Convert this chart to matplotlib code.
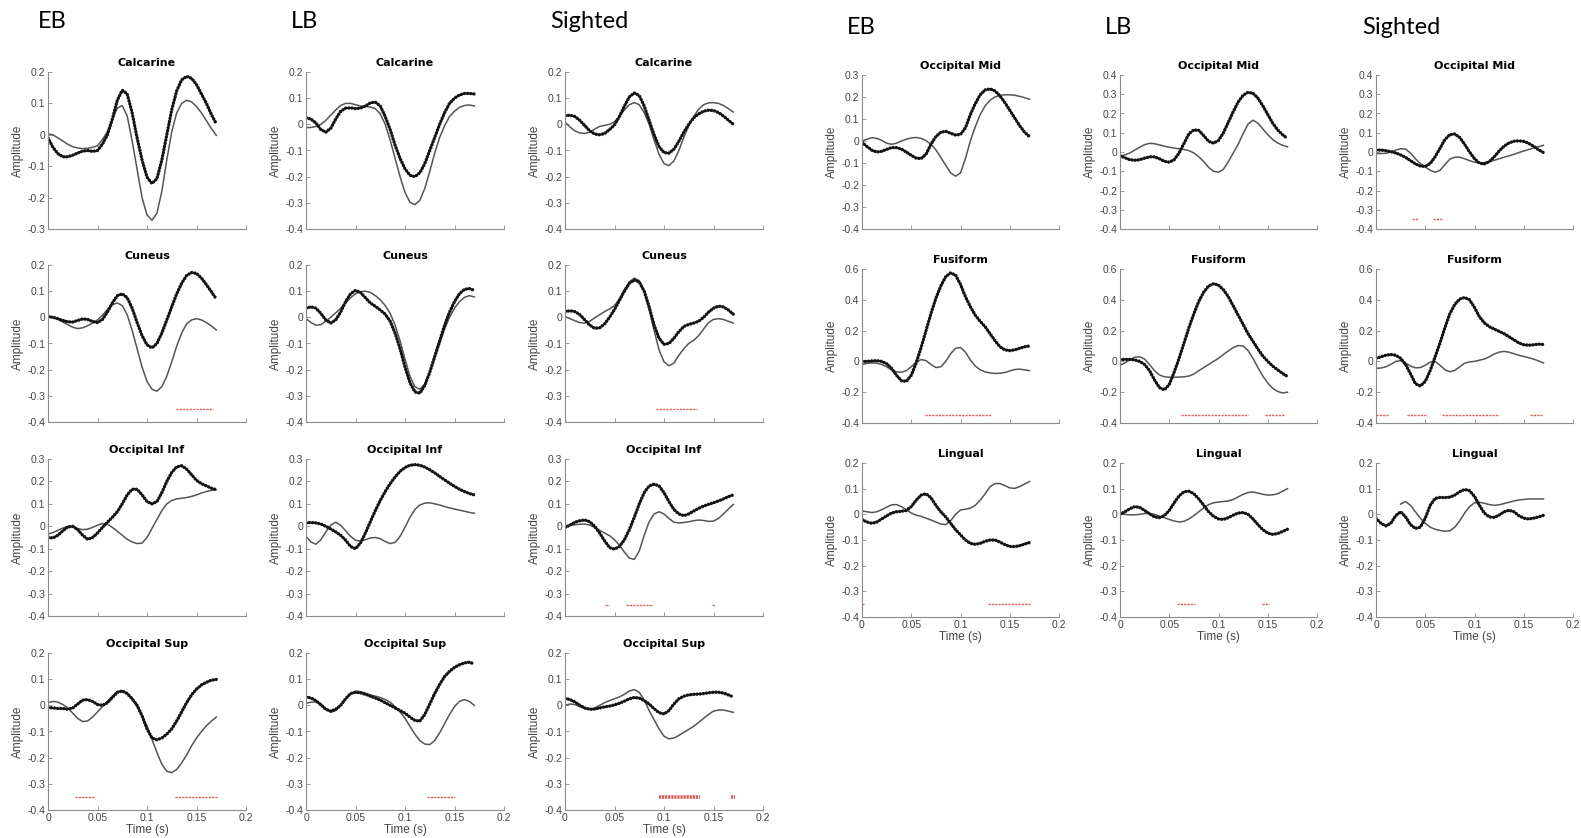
import matplotlib
matplotlib.use("Agg")
import matplotlib.pyplot as plt
import numpy as np

plt.rcParams["font.family"] = ["Liberation Sans", "DejaVu Sans"]
plt.rcParams["axes.unicode_minus"] = False

# time axis of every curve (s)
time_s = np.linspace(0, 0.17, 35)

# ---- Calcarine ----
calc_eb_dots = [-0.01, -0.04, -0.06, -0.07, -0.07, -0.065, -0.058, -0.052, -0.05, -0.053, -0.05, -0.03, 0.0, 0.05, 0.11, 0.142, 0.13, 0.07, -0.01, -0.08, -0.135, -0.155, -0.14, -0.08, 0.0, 0.08, 0.14, 0.175, 0.186, 0.18, 0.16, 0.13, 0.1, 0.065, 0.035]
calc_eb_line = [0.003, 0.0, -0.01, -0.02, -0.03, -0.038, -0.042, -0.044, -0.043, -0.04, -0.035, -0.015, 0.01, 0.05, 0.085, 0.093, 0.06, -0.02, -0.11, -0.2, -0.255, -0.272, -0.25, -0.18, -0.08, 0.01, 0.07, 0.1, 0.11, 0.105, 0.09, 0.07, 0.045, 0.02, -0.002]
calc_eb_sig = []
calc_lb_dots = [0.025, 0.02, 0.005, -0.02, -0.03, -0.015, 0.02, 0.05, 0.062, 0.063, 0.06, 0.062, 0.07, 0.082, 0.085, 0.07, 0.03, -0.02, -0.08, -0.13, -0.17, -0.195, -0.2, -0.185, -0.15, -0.1, -0.05, 0.0, 0.045, 0.08, 0.1, 0.112, 0.118, 0.118, 0.116]
calc_lb_line = [-0.013, -0.012, -0.008, 0.0, 0.015, 0.035, 0.055, 0.072, 0.08, 0.08, 0.075, 0.07, 0.068, 0.066, 0.06, 0.04, 0.0, -0.06, -0.13, -0.2, -0.26, -0.298, -0.307, -0.29, -0.245, -0.18, -0.11, -0.05, -0.005, 0.03, 0.05, 0.065, 0.072, 0.074, 0.07]
calc_lb_sig = []
calc_s_dots = [0.033, 0.035, 0.03, 0.015, -0.005, -0.025, -0.037, -0.04, -0.035, -0.02, -0.002, 0.03, 0.07, 0.105, 0.12, 0.11, 0.07, 0.015, -0.04, -0.085, -0.108, -0.11, -0.095, -0.065, -0.03, 0.0, 0.025, 0.04, 0.05, 0.054, 0.053, 0.045, 0.032, 0.016, 0.0]
calc_s_line = [0.008, -0.01, -0.025, -0.033, -0.035, -0.03, -0.018, -0.008, -0.004, 0.0, 0.01, 0.03, 0.055, 0.075, 0.083, 0.075, 0.045, 0.0, -0.06, -0.115, -0.15, -0.158, -0.14, -0.1, -0.05, -0.005, 0.03, 0.058, 0.075, 0.082, 0.083, 0.08, 0.072, 0.06, 0.047]
calc_s_sig = []

# ---- Cuneus ----
cun_eb_dots = [0.003, 0.0, -0.005, -0.012, -0.017, -0.018, -0.012, -0.006, -0.008, -0.016, -0.02, -0.008, 0.02, 0.055, 0.083, 0.09, 0.075, 0.035, -0.02, -0.07, -0.105, -0.117, -0.1, -0.06, -0.01, 0.04, 0.09, 0.13, 0.16, 0.171, 0.168, 0.15, 0.125, 0.098, 0.07]
cun_eb_line = [0.004, 0.0, -0.008, -0.018, -0.028, -0.038, -0.043, -0.04, -0.032, -0.022, -0.01, 0.008, 0.03, 0.048, 0.055, 0.045, 0.01, -0.05, -0.12, -0.19, -0.245, -0.275, -0.282, -0.265, -0.225, -0.17, -0.11, -0.06, -0.025, -0.01, -0.005, -0.01, -0.02, -0.033, -0.048]
cun_eb_sig = [(0.129, 0.167)]
cun_lb_dots = [0.035, 0.04, 0.035, 0.015, -0.01, -0.022, -0.01, 0.02, 0.06, 0.09, 0.103, 0.095, 0.075, 0.055, 0.042, 0.028, 0.012, -0.015, -0.06, -0.12, -0.19, -0.25, -0.285, -0.29, -0.26, -0.21, -0.15, -0.09, -0.03, 0.02, 0.06, 0.09, 0.107, 0.11, 0.103]
cun_lb_line = [-0.005, -0.02, -0.03, -0.028, -0.015, 0.0, 0.017, 0.035, 0.055, 0.075, 0.09, 0.098, 0.1, 0.095, 0.083, 0.067, 0.045, 0.015, -0.03, -0.09, -0.16, -0.225, -0.265, -0.275, -0.255, -0.21, -0.155, -0.1, -0.045, 0.0, 0.035, 0.06, 0.076, 0.083, 0.078]
cun_lb_sig = []
cun_s_dots = [0.022, 0.025, 0.022, 0.01, -0.01, -0.03, -0.042, -0.04, -0.025, 0.0, 0.03, 0.065, 0.1, 0.13, 0.143, 0.135, 0.1, 0.04, -0.03, -0.08, -0.103, -0.1, -0.08, -0.055, -0.035, -0.027, -0.022, -0.015, 0.0, 0.02, 0.035, 0.043, 0.04, 0.028, 0.012]
cun_s_line = [0.003, -0.005, -0.013, -0.02, -0.022, -0.015, -0.002, 0.01, 0.022, 0.032, 0.045, 0.07, 0.105, 0.135, 0.15, 0.14, 0.1, 0.03, -0.05, -0.125, -0.17, -0.185, -0.175, -0.145, -0.12, -0.1, -0.088, -0.07, -0.045, -0.02, -0.008, -0.005, -0.008, -0.015, -0.022]
cun_s_sig = [(0.092, 0.133)]

# ---- Occipital Inf ----
oinf_eb_dots = [-0.05, -0.052, -0.04, -0.02, -0.003, 0.0, -0.015, -0.04, -0.058, -0.05, -0.03, -0.005, 0.018, 0.04, 0.065, 0.1, 0.14, 0.165, 0.165, 0.14, 0.11, 0.1, 0.11, 0.15, 0.2, 0.24, 0.265, 0.27, 0.255, 0.23, 0.205, 0.19, 0.18, 0.17, 0.163]
oinf_eb_line = [-0.035, -0.028, -0.018, -0.008, 0.0, -0.003, -0.01, -0.015, -0.013, -0.005, 0.005, 0.012, 0.01, -0.005, -0.022, -0.04, -0.058, -0.07, -0.077, -0.075, -0.05, -0.01, 0.03, 0.07, 0.1, 0.115, 0.122, 0.125, 0.128, 0.133, 0.14, 0.148, 0.155, 0.16, 0.163]
oinf_eb_sig = []
oinf_lb_dots = [0.015, 0.017, 0.015, 0.01, 0.0, -0.012, -0.025, -0.04, -0.062, -0.09, -0.1, -0.075, -0.03, 0.02, 0.07, 0.115, 0.155, 0.19, 0.22, 0.245, 0.262, 0.272, 0.275, 0.272, 0.264, 0.252, 0.238, 0.222, 0.207, 0.192, 0.178, 0.165, 0.155, 0.146, 0.14]
oinf_lb_line = [-0.045, -0.07, -0.08, -0.06, -0.025, 0.005, 0.018, 0.005, -0.02, -0.045, -0.062, -0.066, -0.06, -0.052, -0.05, -0.055, -0.068, -0.077, -0.072, -0.045, -0.005, 0.04, 0.075, 0.095, 0.103, 0.105, 0.1, 0.095, 0.088, 0.082, 0.077, 0.072, 0.067, 0.062, 0.058]
oinf_lb_sig = []
oinf_s_dots = [-0.005, 0.005, 0.018, 0.025, 0.028, 0.02, 0.0, -0.03, -0.065, -0.095, -0.102, -0.09, -0.06, -0.015, 0.04, 0.1, 0.15, 0.18, 0.188, 0.18, 0.15, 0.11, 0.075, 0.055, 0.047, 0.055, 0.068, 0.08, 0.09, 0.098, 0.105, 0.113, 0.122, 0.132, 0.14]
oinf_s_line = [0.0, 0.004, 0.007, 0.009, 0.01, 0.005, -0.005, -0.018, -0.03, -0.042, -0.06, -0.085, -0.115, -0.142, -0.148, -0.11, -0.04, 0.02, 0.055, 0.065, 0.055, 0.035, 0.018, 0.015, 0.017, 0.02, 0.025, 0.028, 0.026, 0.022, 0.023, 0.035, 0.055, 0.077, 0.097]
oinf_s_sig = [(0.040, 0.044), (0.062, 0.089), (0.148, 0.152)]

# ---- Occipital Sup ----
osup_eb_dots = [-0.008, -0.01, -0.012, -0.012, -0.015, -0.01, 0.005, 0.02, 0.022, 0.015, 0.003, 0.0, 0.01, 0.03, 0.05, 0.055, 0.045, 0.025, 0.0, -0.04, -0.09, -0.125, -0.132, -0.125, -0.11, -0.09, -0.06, -0.025, 0.01, 0.04, 0.062, 0.078, 0.088, 0.096, 0.099]
osup_eb_line = [0.01, 0.015, 0.012, 0.003, -0.01, -0.03, -0.05, -0.062, -0.06, -0.045, -0.025, -0.005, 0.015, 0.035, 0.052, 0.055, 0.045, 0.025, -0.005, -0.04, -0.08, -0.13, -0.18, -0.225, -0.252, -0.257, -0.245, -0.22, -0.19, -0.155, -0.125, -0.1, -0.078, -0.06, -0.045]
osup_eb_sig = [(0.027, 0.047), (0.128, 0.171)]
osup_lb_dots = [0.032, 0.028, 0.018, 0.002, -0.015, -0.022, -0.015, 0.0, 0.025, 0.045, 0.05, 0.048, 0.042, 0.035, 0.028, 0.02, 0.01, 0.0, -0.01, -0.02, -0.03, -0.045, -0.058, -0.06, -0.035, 0.005, 0.045, 0.08, 0.11, 0.13, 0.145, 0.155, 0.162, 0.165, 0.158]
osup_lb_line = [0.008, 0.012, 0.013, 0.005, -0.013, -0.027, -0.02, 0.0, 0.025, 0.045, 0.054, 0.052, 0.047, 0.04, 0.035, 0.03, 0.022, 0.012, -0.005, -0.025, -0.05, -0.08, -0.11, -0.135, -0.148, -0.15, -0.135, -0.105, -0.07, -0.035, -0.005, 0.015, 0.022, 0.015, 0.0]
osup_lb_sig = [(0.122, 0.151)]
osup_s_dots = [0.027, 0.022, 0.013, 0.0, -0.01, -0.015, -0.014, -0.01, -0.006, -0.003, 0.002, 0.008, 0.016, 0.025, 0.03, 0.028, 0.018, 0.005, -0.013, -0.028, -0.033, -0.02, 0.005, 0.025, 0.035, 0.04, 0.042, 0.043, 0.045, 0.048, 0.05, 0.05, 0.047, 0.04, 0.032]
osup_s_line = [0.0, 0.005, 0.003, -0.005, -0.013, -0.016, -0.01, 0.0, 0.01, 0.018, 0.025, 0.032, 0.042, 0.055, 0.06, 0.05, 0.02, -0.02, -0.055, -0.09, -0.118, -0.128, -0.125, -0.115, -0.103, -0.092, -0.08, -0.065, -0.05, -0.035, -0.022, -0.018, -0.018, -0.022, -0.027]
osup_s_sig = [(0.095, 0.136), (0.168, 0.172)]

# ---- Occipital Mid ----
omid_eb_dots = [-0.006, -0.025, -0.042, -0.05, -0.047, -0.038, -0.03, -0.03, -0.037, -0.05, -0.065, -0.078, -0.08, -0.06, -0.015, 0.02, 0.04, 0.044, 0.035, 0.027, 0.03, 0.06, 0.12, 0.17, 0.21, 0.232, 0.237, 0.228, 0.205, 0.175, 0.14, 0.105, 0.07, 0.04, 0.02]
omid_eb_line = [0.0, 0.008, 0.015, 0.012, 0.003, -0.01, -0.015, -0.01, 0.0, 0.008, 0.014, 0.016, 0.012, 0.002, -0.015, -0.04, -0.075, -0.11, -0.145, -0.16, -0.145, -0.08, 0.0, 0.065, 0.12, 0.16, 0.185, 0.2, 0.207, 0.21, 0.21, 0.208, 0.203, 0.197, 0.19]
omid_eb_sig = []
omid_lb_dots = [-0.02, -0.03, -0.04, -0.043, -0.04, -0.032, -0.025, -0.025, -0.035, -0.048, -0.053, -0.04, -0.005, 0.045, 0.095, 0.115, 0.112, 0.085, 0.055, 0.046, 0.06, 0.1, 0.155, 0.21, 0.26, 0.295, 0.31, 0.305, 0.28, 0.24, 0.195, 0.15, 0.115, 0.09, 0.07]
omid_lb_line = [-0.02, -0.015, -0.005, 0.01, 0.025, 0.038, 0.045, 0.043, 0.037, 0.03, 0.025, 0.02, 0.017, 0.013, 0.007, -0.005, -0.025, -0.05, -0.08, -0.1, -0.105, -0.09, -0.05, -0.005, 0.04, 0.095, 0.145, 0.165, 0.15, 0.12, 0.09, 0.065, 0.047, 0.035, 0.027]
omid_lb_sig = []
omid_s_dots = [0.01, 0.01, 0.007, 0.002, -0.005, -0.015, -0.028, -0.045, -0.062, -0.073, -0.075, -0.06, -0.025, 0.02, 0.065, 0.09, 0.094, 0.075, 0.04, 0.0, -0.035, -0.058, -0.062, -0.05, -0.025, 0.005, 0.03, 0.047, 0.056, 0.058, 0.055, 0.045, 0.03, 0.012, -0.003]
omid_s_line = [-0.008, -0.008, -0.007, 0.0, 0.01, 0.017, 0.015, -0.005, -0.035, -0.06, -0.078, -0.095, -0.105, -0.095, -0.065, -0.037, -0.027, -0.027, -0.035, -0.045, -0.053, -0.057, -0.055, -0.05, -0.043, -0.035, -0.027, -0.02, -0.012, -0.003, 0.005, 0.013, 0.021, 0.028, 0.035]
omid_s_sig = [(0.037, 0.043), (0.058, 0.067)]

# ---- Fusiform ----
fus_eb_dots = [0.0, 0.0, 0.003, 0.005, 0.0, -0.015, -0.045, -0.09, -0.125, -0.13, -0.09, -0.01, 0.09, 0.2, 0.31, 0.41, 0.49, 0.55, 0.575, 0.56, 0.5, 0.42, 0.355, 0.3, 0.26, 0.225, 0.18, 0.135, 0.095, 0.075, 0.07, 0.075, 0.085, 0.095, 0.1]
fus_eb_line = [-0.02, -0.012, -0.01, -0.012, -0.02, -0.035, -0.055, -0.068, -0.07, -0.06, -0.035, -0.005, 0.012, 0.005, -0.02, -0.04, -0.035, 0.0, 0.05, 0.085, 0.09, 0.06, 0.01, -0.03, -0.055, -0.068, -0.075, -0.078, -0.077, -0.072, -0.062, -0.053, -0.05, -0.055, -0.06]
fus_eb_sig = [(0.0635, 0.131)]
fus_lb_dots = [0.012, 0.013, 0.013, 0.01, 0.0, -0.02, -0.06, -0.12, -0.17, -0.185, -0.15, -0.07, 0.02, 0.12, 0.22, 0.31, 0.39, 0.45, 0.49, 0.505, 0.495, 0.465, 0.42, 0.36, 0.3, 0.24, 0.18, 0.13, 0.08, 0.035, 0.0, -0.03, -0.055, -0.078, -0.098]
fus_lb_line = [-0.025, -0.01, 0.01, 0.028, 0.03, 0.015, -0.02, -0.06, -0.088, -0.1, -0.103, -0.103, -0.102, -0.1, -0.095, -0.082, -0.06, -0.04, -0.02, 0.0, 0.02, 0.045, 0.068, 0.09, 0.103, 0.1, 0.07, 0.02, -0.04, -0.095, -0.14, -0.175, -0.195, -0.205, -0.2]
fus_lb_sig = [(0.062, 0.130), (0.147, 0.166)]
fus_s_dots = [0.02, 0.03, 0.04, 0.045, 0.04, 0.02, -0.02, -0.08, -0.145, -0.16, -0.13, -0.06, 0.03, 0.12, 0.22, 0.31, 0.37, 0.405, 0.415, 0.4, 0.35, 0.29, 0.25, 0.225, 0.21, 0.195, 0.18, 0.16, 0.14, 0.12, 0.108, 0.105, 0.108, 0.112, 0.11]
fus_s_line = [-0.045, -0.043, -0.035, -0.02, 0.0, 0.005, -0.01, -0.03, -0.042, -0.04, -0.025, -0.005, 0.0, -0.025, -0.055, -0.067, -0.058, -0.035, -0.012, -0.003, 0.0, 0.008, 0.015, 0.03, 0.048, 0.06, 0.065, 0.06, 0.05, 0.04, 0.032, 0.024, 0.015, 0.003, -0.01]
fus_s_sig = [(0.0, 0.0125), (0.031, 0.052), (0.067, 0.125), (0.156, 0.169)]

# ---- Lingual ----
ling_eb_dots = [-0.02, -0.03, -0.035, -0.03, -0.018, -0.006, 0.005, 0.01, 0.012, 0.015, 0.03, 0.055, 0.075, 0.08, 0.065, 0.035, 0.01, -0.01, -0.035, -0.06, -0.08, -0.1, -0.113, -0.117, -0.113, -0.105, -0.1, -0.1, -0.108, -0.118, -0.125, -0.126, -0.122, -0.116, -0.11]
ling_eb_line = [0.013, 0.01, 0.007, 0.01, 0.018, 0.028, 0.037, 0.038, 0.03, 0.018, 0.005, -0.003, -0.008, -0.015, -0.022, -0.03, -0.038, -0.04, -0.025, 0.0, 0.017, 0.02, 0.024, 0.035, 0.055, 0.08, 0.108, 0.12, 0.12, 0.112, 0.103, 0.101, 0.108, 0.118, 0.128]
ling_eb_sig = [(0.0, 0.002), (0.128, 0.171)]
ling_lb_dots = [0.0, 0.01, 0.022, 0.03, 0.027, 0.015, 0.002, -0.01, -0.013, -0.005, 0.015, 0.045, 0.072, 0.088, 0.09, 0.08, 0.06, 0.035, 0.01, -0.008, -0.018, -0.02, -0.013, -0.003, 0.005, 0.007, 0.0, -0.018, -0.04, -0.06, -0.073, -0.078, -0.075, -0.067, -0.058]
ling_lb_line = [0.003, 0.0, -0.002, -0.002, 0.0, 0.003, 0.004, 0.0, -0.007, -0.013, -0.02, -0.026, -0.03, -0.027, -0.018, -0.005, 0.01, 0.025, 0.038, 0.045, 0.048, 0.05, 0.052, 0.058, 0.068, 0.078, 0.085, 0.087, 0.083, 0.078, 0.075, 0.076, 0.08, 0.09, 0.1]
ling_lb_sig = [(0.058, 0.076), (0.144, 0.151)]
ling_s_dots = [-0.015, -0.035, -0.045, -0.035, -0.005, 0.01, -0.01, -0.04, -0.055, -0.05, -0.015, 0.035, 0.062, 0.066, 0.065, 0.067, 0.075, 0.088, 0.097, 0.092, 0.07, 0.035, 0.005, -0.01, -0.012, -0.003, 0.01, 0.016, 0.01, -0.005, -0.015, -0.018, -0.015, -0.01, -0.004]
ling_s_line = [np.nan, np.nan, np.nan, np.nan, np.nan, 0.04, 0.05, 0.035, 0.01, -0.015, -0.035, -0.05, -0.058, -0.063, -0.066, -0.064, -0.05, -0.025, 0.005, 0.03, 0.045, 0.047, 0.043, 0.038, 0.035, 0.037, 0.042, 0.047, 0.052, 0.056, 0.058, 0.06, 0.06, 0.06, 0.06]
ling_s_sig = []

groups = ["EB", "LB", "Sighted"]
SIG_Y = -0.35

# block, row, col, title, dotted curve, solid curve, significance, ylim, ystep
panels = [
    ("L", 0, 0, "Calcarine", calc_eb_dots, calc_eb_line, calc_eb_sig, (-0.3, 0.2), 0.1),
    ("L", 0, 1, "Calcarine", calc_lb_dots, calc_lb_line, calc_lb_sig, (-0.4, 0.2), 0.1),
    ("L", 0, 2, "Calcarine", calc_s_dots, calc_s_line, calc_s_sig, (-0.4, 0.2), 0.1),
    ("L", 1, 0, "Cuneus", cun_eb_dots, cun_eb_line, cun_eb_sig, (-0.4, 0.2), 0.1),
    ("L", 1, 1, "Cuneus", cun_lb_dots, cun_lb_line, cun_lb_sig, (-0.4, 0.2), 0.1),
    ("L", 1, 2, "Cuneus", cun_s_dots, cun_s_line, cun_s_sig, (-0.4, 0.2), 0.1),
    ("L", 2, 0, "Occipital Inf", oinf_eb_dots, oinf_eb_line, oinf_eb_sig, (-0.4, 0.3), 0.1),
    ("L", 2, 1, "Occipital Inf", oinf_lb_dots, oinf_lb_line, oinf_lb_sig, (-0.4, 0.3), 0.1),
    ("L", 2, 2, "Occipital Inf", oinf_s_dots, oinf_s_line, oinf_s_sig, (-0.4, 0.3), 0.1),
    ("L", 3, 0, "Occipital Sup", osup_eb_dots, osup_eb_line, osup_eb_sig, (-0.4, 0.2), 0.1),
    ("L", 3, 1, "Occipital Sup", osup_lb_dots, osup_lb_line, osup_lb_sig, (-0.4, 0.2), 0.1),
    ("L", 3, 2, "Occipital Sup", osup_s_dots, osup_s_line, osup_s_sig, (-0.4, 0.2), 0.1),
    ("R", 0, 0, "Occipital Mid", omid_eb_dots, omid_eb_line, omid_eb_sig, (-0.4, 0.3), 0.1),
    ("R", 0, 1, "Occipital Mid", omid_lb_dots, omid_lb_line, omid_lb_sig, (-0.4, 0.4), 0.1),
    ("R", 0, 2, "Occipital Mid", omid_s_dots, omid_s_line, omid_s_sig, (-0.4, 0.4), 0.1),
    ("R", 1, 0, "Fusiform", fus_eb_dots, fus_eb_line, fus_eb_sig, (-0.4, 0.6), 0.2),
    ("R", 1, 1, "Fusiform", fus_lb_dots, fus_lb_line, fus_lb_sig, (-0.4, 0.6), 0.2),
    ("R", 1, 2, "Fusiform", fus_s_dots, fus_s_line, fus_s_sig, (-0.4, 0.6), 0.2),
    ("R", 2, 0, "Lingual", ling_eb_dots, ling_eb_line, ling_eb_sig, (-0.4, 0.2), 0.1),
    ("R", 2, 1, "Lingual", ling_lb_dots, ling_lb_line, ling_lb_sig, (-0.4, 0.2), 0.1),
    ("R", 2, 2, "Lingual", ling_s_dots, ling_s_line, ling_s_sig, (-0.4, 0.2), 0.1),
]

# layout in pixels of the 1581 x 838 canvas
W, H = 1581, 838
layout = {
    "L": dict(x=[48, 306, 565], top=[72, 265, 459, 653], w=198, h=157, last=3),
    "R": dict(x=[862, 1120, 1376], top=[75, 269, 463], w=197, h=154, last=2),
}
headers = [(38, 22), (291, 22), (550, 22), (847, 27), (1105, 27), (1362, 27)]


def fmt(v):
    s = f"{v:.2f}".rstrip("0").rstrip(".")
    return "0" if s in ("-0", "0") else s


fig = plt.figure(figsize=(W / 100, H / 100), dpi=100)

for i, (px, py) in enumerate(headers):
    fig.text(px / W, 1 - py / H, groups[i % 3], fontsize=17, va="center",
             ha="left", family=["Lato", "DejaVu Sans"])

for block, row, col, title, dots, line, sig, ylim, ystep in panels:
    lay = layout[block]
    x0, top = lay["x"][col], lay["top"][row]
    ax = fig.add_axes([x0 / W, 1 - (top + lay["h"]) / H, lay["w"] / W, lay["h"] / H])

    ax.plot(time_s, line, color="#555555", lw=1.1)
    ax.plot(time_s, dots, color="#151515", lw=2.4, linestyle=(0, (0.1, 0.85)),
            dash_capstyle="round")
    thick = block == "L" and row == 3 and col == 2
    for a, b in sig:
        if thick:
            ax.hlines(SIG_Y, a, b, colors="#e25b55", lw=2.6,
                      linestyles=(0, (0.6, 0.25)))
        else:
            ax.hlines(SIG_Y, a, b, colors="#e25b55", lw=1.0,
                      linestyles=(0, (1.6, 0.8)))

    ax.set_xlim(0, 0.2)
    ax.set_ylim(*ylim)
    yt = np.round(np.arange(ylim[0], ylim[1] + 1e-9, ystep), 2)
    ax.set_yticks(yt)
    ax.set_yticklabels([fmt(v) for v in yt])
    xt = [0, 0.05, 0.1, 0.15, 0.2]
    ax.set_xticks(xt)
    if row == lay["last"]:
        ax.set_xticklabels([fmt(v) for v in xt])
        ax.set_xlabel("Time (s)", fontsize=8.5, color="#444444", labelpad=1)
    else:
        ax.set_xticklabels([])

    ax.set_title(title, fontsize=8, fontweight="bold", pad=4,
                 family=["DejaVu Sans"])
    ax.set_ylabel("Amplitude", fontsize=8.5, color="#444444", labelpad=2)
    for side in ("top", "right"):
        ax.spines[side].set_visible(False)
    for side in ("left", "bottom"):
        ax.spines[side].set_color("#8a8a8a")
        ax.spines[side].set_linewidth(0.8)
    ax.tick_params(direction="in", length=3, width=0.6, color="#8a8a8a",
                   labelsize=7.5, labelcolor="#444444", pad=2)

fig.savefig("out.png", dpi=100, facecolor="white")
